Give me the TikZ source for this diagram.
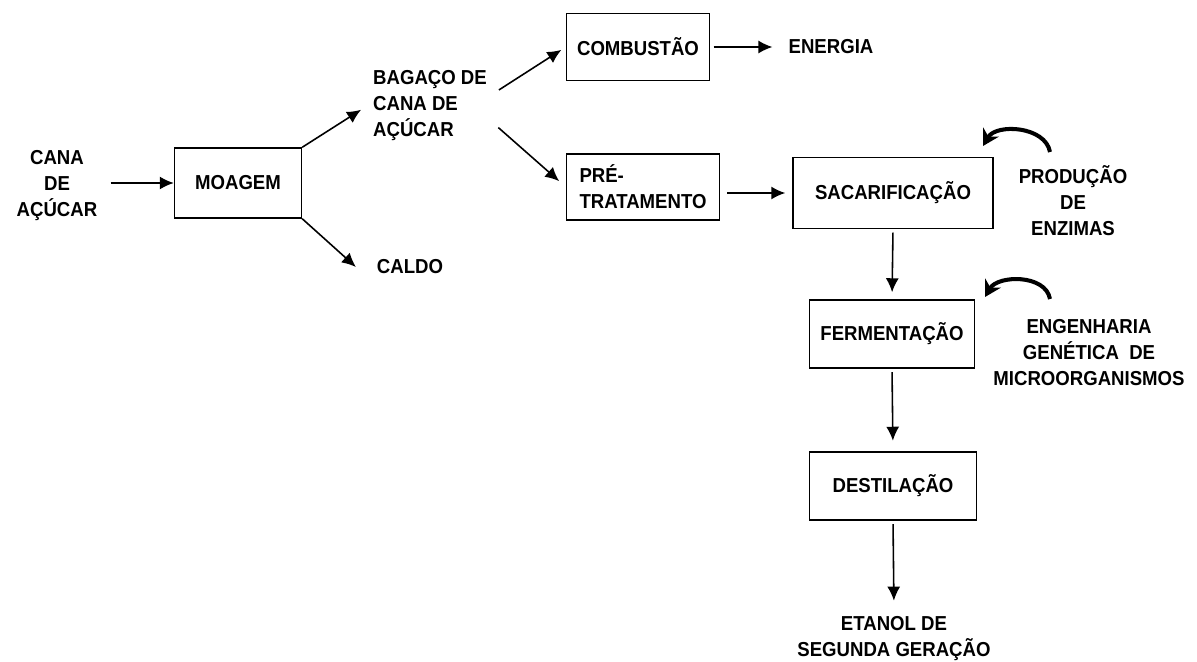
\documentclass[tikz,border=0pt]{standalone}
\usepackage{fontspec}
\setmainfont{Liberation Sans}[FakeStretch=0.92]
\usetikzlibrary{arrows.meta,positioning}
\tikzset{
  >={Latex[length=2.8mm,width=2.6mm]},
  every node/.style={font=\fontsize{11.5}{14.8}\selectfont\bfseries},
  block/.style={draw,line width=0.8pt,align=center,inner sep=4pt},
  txt/.style={align=center},
  arrow/.style={->,line width=0.9pt},
  curv/.style={-{Stealth[length=3.2mm,width=3.6mm]},line width=2.3pt},
}
\begin{document}
\begin{tikzpicture}[x=0.02cm,y=0.02cm]
  \useasboundingbox (0,0) rectangle (1197,-662);
  % entrada e moagem
  \node[txt] (cana) at (57,-186) {CANA\\DE\\AÇÚCAR};
  \node[block,minimum width=2.54cm,minimum height=1.4cm] (moagem) at (238,-183) {MOAGEM};
  \node[txt,align=left] (bagaco) at (430,-106) {BAGAÇO DE\\CANA DE\\AÇÚCAR};
  \node[txt] (caldo) at (410,-267) {CALDO};
  % ramo da energia
  \node[block,minimum width=2.86cm,minimum height=1.34cm] (comb) at (638,-47) {COMBUSTÃO};
  \node[txt] (energia) at (831,-47) {ENERGIA};
  % ramo do etanol
  \node[block,align=left,minimum width=3.06cm,minimum height=1.32cm] (pre) at (643,-187) {PRÉ-\\TRATAMENTO};
  \node[block,minimum width=4cm,minimum height=1.42cm] (sacar) at (893,-193) {SACARIFICAÇÃO};
  \node[block,minimum width=3.3cm,minimum height=1.36cm] (ferm) at (892,-334) {FERMENTAÇÃO};
  \node[block,minimum width=3.34cm,minimum height=1.36cm] (dest) at (893,-486) {DESTILAÇÃO};
  \node[txt] (etanol) at (894,-639) {ETANOL DE\\SEGUNDA GERAÇÃO};
  \node[txt] (enzimas) at (1073,-201) {PRODUÇÃO\\DE\\ENZIMAS};
  \node[txt] (eng) at (1089,-353) {ENGENHARIA\\GENÉTICA~ DE\\MICROORGANISMOS};
  \coordinate (enzA) at (1050,-152);
  \coordinate (enzB) at (983,-146);
  \coordinate (engA) at (1050,-299);
  \coordinate (engB) at (985,-297);

  \draw[arrow,shorten <=4pt] (cana.east |- moagem.west) -- (moagem.west);
  \draw[arrow,shorten >=4pt] (moagem.north east) -- (bagaco.west);
  \draw[arrow,shorten >=0.4cm] (moagem.south east) -- (caldo.south west);
  \draw[arrow,shorten <=4pt,shorten >=3pt] (bagaco.11) -- (comb.west);
  \draw[arrow,shorten <=4pt,shorten >=5pt] (bagaco.345) -- (pre.west);
  \draw[arrow,shorten <=2pt,shorten >=0.2cm] (comb.east) -- (energia.west);
  \draw[arrow,shorten <=4pt,shorten >=4pt] (pre.east |- sacar.west) -- (sacar.west);
  \draw[arrow,shorten <=2pt,shorten >=4pt] (sacar.south) -- (ferm.north);
  \draw[arrow,shorten <=2pt,shorten >=6pt] (ferm.south) -- (dest.north);
  \draw[arrow,shorten <=2pt,shorten >=0.2cm] (dest.south) -- (etanol.north);
  \draw[curv] (enzA) to[out=100,in=60] (enzB);
  \draw[curv] (engA) to[out=100,in=60] (engB);
\end{tikzpicture}
\end{document}
